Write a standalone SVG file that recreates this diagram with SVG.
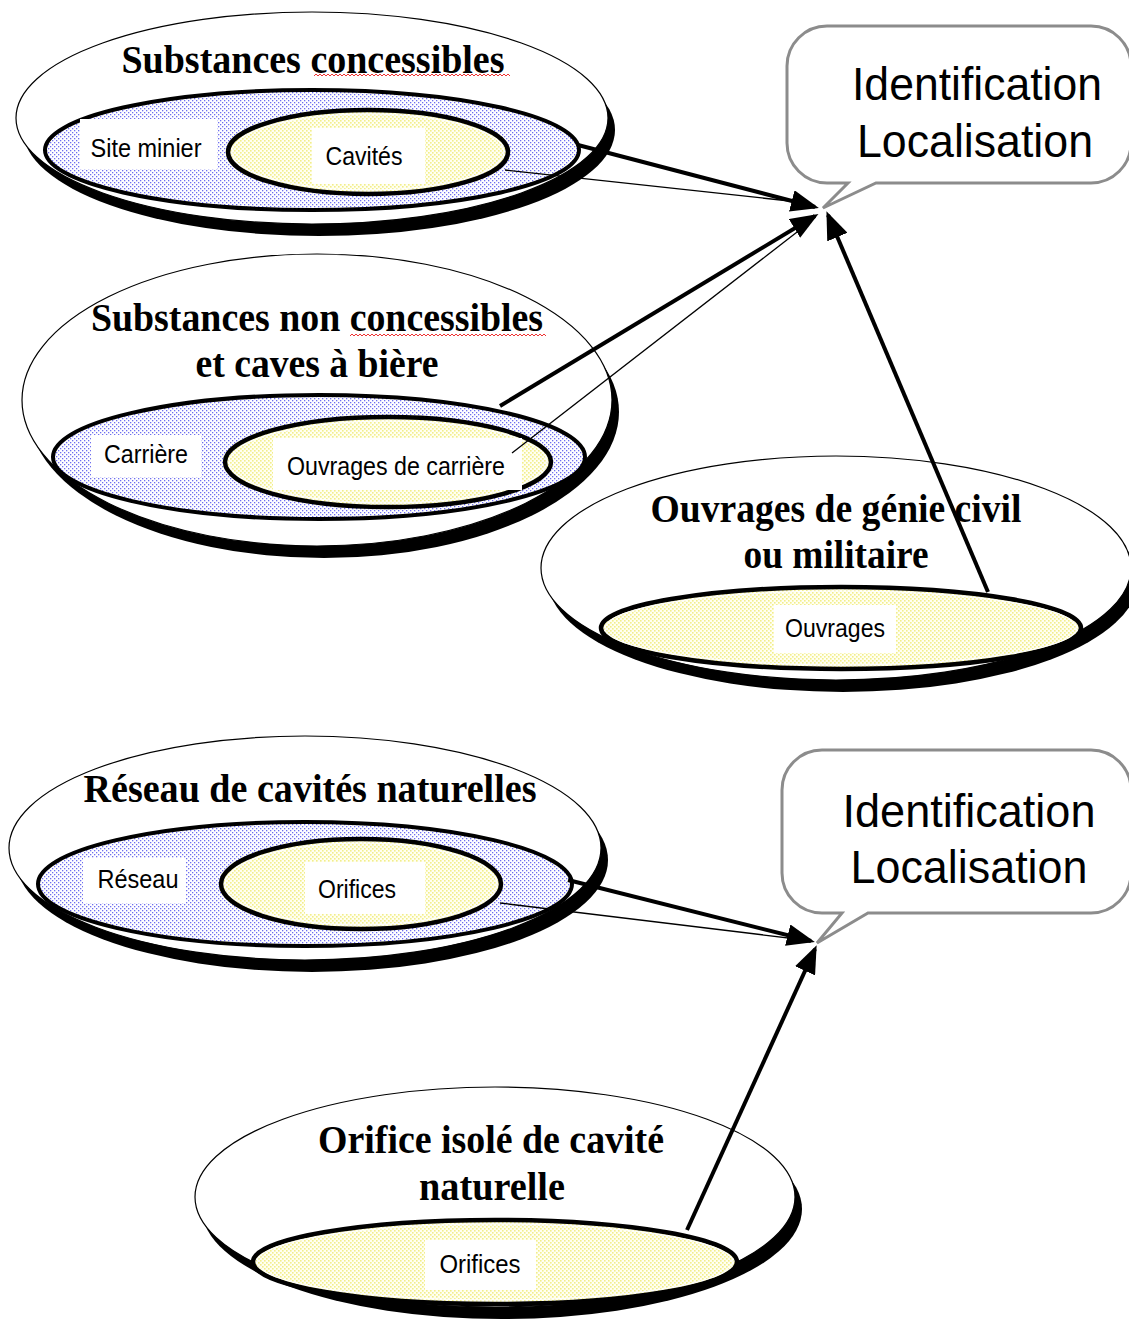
<svg xmlns="http://www.w3.org/2000/svg" width="1129" height="1328" viewBox="0 0 1129 1328">
<style>
.bg{fill:#fff}
.shadow{fill:#000}
.outer{fill:#fff;stroke:#000;stroke-width:1.2}
.blue{fill:url(#blueDots);stroke:#000;stroke-width:4}
.yellow{fill:url(#yellowDots);stroke:#000;stroke-width:4.5}
.inner{fill:none;stroke:#fff;stroke-width:1}
.halo{fill:#fff}
.title{font-family:"Liberation Serif","Times New Roman",serif;font-weight:bold;font-size:41px;fill:#000;text-anchor:middle}
.label{font-family:"Liberation Sans",Arial,sans-serif;font-size:26px;fill:#000;text-anchor:middle}
.call{font-family:"Liberation Sans",Arial,sans-serif;font-size:47px;fill:#000;text-anchor:middle}
.bubble{fill:#fff;stroke:#8c8c8c;stroke-width:3;stroke-linejoin:miter}
.thick{stroke:#000;stroke-width:4;fill:none;marker-end:url(#arrow)}
.thin{stroke:#000;stroke-width:1.3;fill:none}
.squiggle{stroke:#e33;stroke-width:1;fill:none}
</style>
<defs>
<pattern id="blueDots" width="4" height="4" patternUnits="userSpaceOnUse">
<rect width="4" height="4" fill="#fff"/>
<rect x="0" y="0" width="1.3" height="1.3" fill="#6e6ef0"/>
<rect x="2" y="2" width="1.3" height="1.3" fill="#6e6ef0"/>
</pattern>
<pattern id="yellowDots" width="4" height="4" patternUnits="userSpaceOnUse">
<rect width="4" height="4" fill="#fffff2"/>
<rect x="0" y="0" width="1.6" height="1.6" fill="#f2ee8a"/>
<rect x="2" y="2" width="1.6" height="1.6" fill="#f2ee8a"/>
</pattern>
<marker id="arrow" viewBox="0 0 28 22" refX="24" refY="11" markerWidth="28" markerHeight="22" markerUnits="userSpaceOnUse" orient="auto">
<path d="M0,0 L28,11 L0,22 Z" fill="#000"/>
</marker>
</defs>
<rect class="bg" x="0" y="0" width="1129" height="1328"/>

<g id="node-substances-concessibles">
<ellipse class="shadow" cx="319" cy="130" rx="296" ry="106"/>
<ellipse class="outer" cx="312" cy="118" rx="296" ry="106"/>
<ellipse class="blue" cx="312" cy="150" rx="267" ry="60"/>
<rect class="halo" x="80" y="119" width="137" height="50"/>
<text class="label" x="146" y="157" textLength="111" lengthAdjust="spacingAndGlyphs">Site minier</text>
<ellipse class="yellow" cx="368" cy="152" rx="140" ry="42"/>
<ellipse class="inner" cx="368" cy="152" rx="136" ry="38"/>
<rect class="halo" x="312" y="128" width="113" height="56"/>
<text class="label" x="364" y="165" textLength="77" lengthAdjust="spacingAndGlyphs">Cavités</text>
<text class="title" x="313" y="73" textLength="383" lengthAdjust="spacingAndGlyphs">Substances concessibles</text>
<path class="squiggle" d="M314,76 l2,-2 l2,2 l2,-2 l2,2 l2,-2 l2,2 l2,-2 l2,2 l2,-2 l2,2 l2,-2 l2,2 l2,-2 l2,2 l2,-2 l2,2 l2,-2 l2,2 l2,-2 l2,2 l2,-2 l2,2 l2,-2 l2,2 l2,-2 l2,2 l2,-2 l2,2 l2,-2 l2,2 l2,-2 l2,2 l2,-2 l2,2 l2,-2 l2,2 l2,-2 l2,2 l2,-2 l2,2 l2,-2 l2,2 l2,-2 l2,2 l2,-2 l2,2 l2,-2 l2,2 l2,-2 l2,2 l2,-2 l2,2 l2,-2 l2,2 l2,-2 l2,2 l2,-2 l2,2 l2,-2 l2,2 l2,-2 l2,2 l2,-2 l2,2 l2,-2 l2,2 l2,-2 l2,2 l2,-2 l2,2 l2,-2 l2,2 l2,-2 l2,2 l2,-2 l2,2 l2,-2 l2,2 l2,-2 l2,2 l2,-2 l2,2 l2,-2 l2,2 l2,-2 l2,2 l2,-2 l2,2 l2,-2 l2,2 l2,-2 l2,2 l2,-2 l2,2 l2,-2 l2,2 l2,-2 l2,2"/>
</g>

<g id="node-substances-non-concessibles">
<ellipse class="shadow" cx="324" cy="412" rx="295" ry="146"/>
<ellipse class="outer" cx="317" cy="400" rx="295" ry="146"/>
<ellipse class="blue" cx="319" cy="457" rx="266" ry="62"/>
<rect class="halo" x="91" y="435" width="110" height="42"/>
<text class="label" x="146" y="463" textLength="84" lengthAdjust="spacingAndGlyphs">Carrière</text>
<ellipse class="yellow" cx="388" cy="462" rx="163" ry="45"/>
<ellipse class="inner" cx="388" cy="462" rx="159" ry="41"/>
<rect class="halo" x="273" y="438" width="249" height="52"/>
<text class="label" x="396" y="475" textLength="218" lengthAdjust="spacingAndGlyphs">Ouvrages de carrière</text>
<text class="title" x="317" y="331" textLength="452" lengthAdjust="spacingAndGlyphs">Substances non concessibles</text>
<text class="title" x="317" y="377" textLength="243" lengthAdjust="spacingAndGlyphs">et caves à bière</text>
<path class="squiggle" d="M350,336 l2,-2 l2,2 l2,-2 l2,2 l2,-2 l2,2 l2,-2 l2,2 l2,-2 l2,2 l2,-2 l2,2 l2,-2 l2,2 l2,-2 l2,2 l2,-2 l2,2 l2,-2 l2,2 l2,-2 l2,2 l2,-2 l2,2 l2,-2 l2,2 l2,-2 l2,2 l2,-2 l2,2 l2,-2 l2,2 l2,-2 l2,2 l2,-2 l2,2 l2,-2 l2,2 l2,-2 l2,2 l2,-2 l2,2 l2,-2 l2,2 l2,-2 l2,2 l2,-2 l2,2 l2,-2 l2,2 l2,-2 l2,2 l2,-2 l2,2 l2,-2 l2,2 l2,-2 l2,2 l2,-2 l2,2 l2,-2 l2,2 l2,-2 l2,2 l2,-2 l2,2 l2,-2 l2,2 l2,-2 l2,2 l2,-2 l2,2 l2,-2 l2,2 l2,-2 l2,2 l2,-2 l2,2 l2,-2 l2,2 l2,-2 l2,2 l2,-2 l2,2 l2,-2 l2,2 l2,-2 l2,2 l2,-2 l2,2 l2,-2 l2,2 l2,-2 l2,2 l2,-2 l2,2 l2,-2 l2,2"/>
</g>

<g id="node-genie-civil">
<ellipse class="shadow" cx="843" cy="580" rx="295" ry="112"/>
<ellipse class="outer" cx="836" cy="568" rx="295" ry="112"/>
<ellipse class="yellow" cx="841" cy="628" rx="240" ry="41"/>
<ellipse class="inner" cx="841" cy="628" rx="236" ry="37"/>
<rect class="halo" x="774" y="605" width="122" height="48"/>
<text class="label" x="835" y="637" textLength="100" lengthAdjust="spacingAndGlyphs">Ouvrages</text>
<text class="title" x="836" y="522" textLength="371" lengthAdjust="spacingAndGlyphs">Ouvrages de génie civil</text>
<text class="title" x="836" y="568" textLength="185" lengthAdjust="spacingAndGlyphs">ou militaire</text>
</g>

<g id="callout-1">
<path class="bubble" d="M827,26 H1091 A40,40 0 0 1 1131,66 V143 A40,40 0 0 1 1091,183 H876 L823,208 L848,183 H827 A40,40 0 0 1 787,143 V66 A40,40 0 0 1 827,26 Z"/>
<text class="call" x="977" y="100" textLength="250" lengthAdjust="spacingAndGlyphs">Identification</text>
<text class="call" x="975" y="157" textLength="236" lengthAdjust="spacingAndGlyphs">Localisation</text>
</g>

<g id="node-reseau">
<ellipse class="shadow" cx="312" cy="860" rx="296" ry="112"/>
<ellipse class="outer" cx="305" cy="848" rx="296" ry="112"/>
<ellipse class="blue" cx="305" cy="884" rx="267" ry="62"/>
<rect class="halo" x="83" y="858" width="103" height="45"/>
<text class="label" x="138" y="888" textLength="81" lengthAdjust="spacingAndGlyphs">Réseau</text>
<ellipse class="yellow" cx="361" cy="884" rx="140" ry="45"/>
<ellipse class="inner" cx="361" cy="884" rx="136" ry="41"/>
<rect class="halo" x="305" y="862" width="120" height="52"/>
<text class="label" x="357" y="898" textLength="78" lengthAdjust="spacingAndGlyphs">Orifices</text>
<text class="title" x="310" y="802" textLength="453" lengthAdjust="spacingAndGlyphs">Réseau de cavités naturelles</text>
</g>

<g id="callout-2">
<path class="bubble" d="M822,750 H1091 A40,40 0 0 1 1131,790 V873 A40,40 0 0 1 1091,913 H868 L817,943 L842,913 H822 A40,40 0 0 1 782,873 V790 A40,40 0 0 1 822,750 Z"/>
<text class="call" x="969" y="827" textLength="253" lengthAdjust="spacingAndGlyphs">Identification</text>
<text class="call" x="969" y="883" textLength="237" lengthAdjust="spacingAndGlyphs">Localisation</text>
</g>

<g id="node-orifice-isole">
<ellipse class="shadow" cx="502" cy="1209" rx="300" ry="110"/>
<ellipse class="outer" cx="495" cy="1197" rx="300" ry="110"/>
<ellipse class="yellow" cx="495" cy="1262" rx="242" ry="42"/>
<ellipse class="inner" cx="495" cy="1262" rx="238" ry="38"/>
<rect class="halo" x="425" y="1240" width="111" height="50"/>
<text class="label" x="480" y="1273" textLength="81" lengthAdjust="spacingAndGlyphs">Orifices</text>
<text class="title" x="491" y="1153" textLength="346" lengthAdjust="spacingAndGlyphs">Orifice isolé de cavité</text>
<text class="title" x="492" y="1200" textLength="146" lengthAdjust="spacingAndGlyphs">naturelle</text>
</g>

<g id="connectors">
<line class="thin" x1="505" y1="170" x2="808" y2="203"/>
<line class="thick" x1="578" y1="145" x2="815" y2="207"/>
<line class="thin" x1="512" y1="453" x2="810" y2="222"/>
<line class="thick" x1="500" y1="406" x2="815" y2="216"/>
<line class="thick" x1="988" y1="592" x2="828" y2="215"/>
<line class="thin" x1="500" y1="903" x2="805" y2="940"/>
<line class="thick" x1="568" y1="880" x2="811" y2="941"/>
<line class="thick" x1="687" y1="1230" x2="815" y2="949"/>
</g>
</svg>
